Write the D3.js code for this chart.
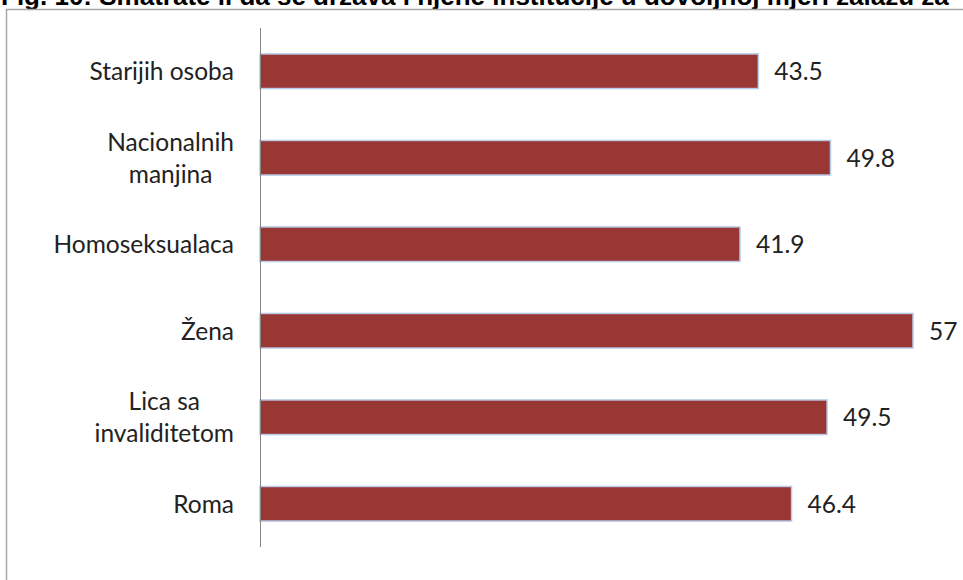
<!DOCTYPE html>
<html><head><meta charset="utf-8">
<script src="https://cdn.jsdelivr.net/npm/d3@7"></script>
<style>body{margin:0;background:#fff;overflow:hidden}</style>
</head><body>
<svg id="c" width="963" height="580"></svg>
<script>
const title = "Fig. 10: Smatrate li da se država i njene institucije u dovoljnoj mjeri zalažu za";
const categories = [["Starijih osoba"], ["Nacionalnih", "manjina"], ["Homoseksualaca"], ["Žena"], ["Lica sa", "invaliditetom"], ["Roma"]];
const values = [43.5, 49.8, 41.9, 57, 49.5, 46.4];
const labels = ["43.5", "49.8", "41.9", "57", "49.5", "46.4"];

const svg = d3.select("#c");
const font = "Lato, 'Open Sans', sans-serif";

svg.append("text").attr("x", 1).attr("y", 5)
  .attr("font-family", "'Liberation Sans', Arial, sans-serif").attr("font-weight", "bold")
  .attr("font-size", 26).attr("fill", "#000").text(title);

svg.append("rect").attr("x", 6.5).attr("y", 9.5).attr("width", 1000).attr("height", 700)
  .attr("fill", "#fff").attr("stroke", "#a6a6a6").attr("stroke-width", 1.5);

const x0 = 260, y0 = 28, y1 = 547;
const x = d3.scaleLinear().domain([0, 60]).range([x0, x0 + 60 * 11.456]);
const y = d3.scaleBand().domain(d3.range(values.length)).range([y0, y1]).paddingInner(0.6).paddingOuter(0.3);

svg.selectAll("rect.bar").data(values).join("rect").attr("class", "bar")
  .attr("x", x(0)).attr("y", (d, i) => y(i))
  .attr("width", d => x(d) - x(0)).attr("height", y.bandwidth())
  .attr("fill", "#993735").attr("stroke", "#b8cbe8").attr("stroke-width", 1.5);

svg.append("line").attr("x1", x0 + 0.5).attr("x2", x0 + 0.5).attr("y1", y0).attr("y2", y1)
  .attr("stroke", "#868686").attr("stroke-width", 1);

svg.selectAll("text.val").data(values).join("text").attr("class", "val")
  .attr("x", d => x(d) + 16).attr("y", (d, i) => y(i) + y.bandwidth() / 2)
  .attr("dy", "0.36em").attr("font-family", font).attr("font-size", 24.5).attr("fill", "#222")
  .text((d, i) => labels[i]);

const lh = 32;
categories.forEach((lines, i) => {
  const cy = y(i) + y.bandwidth() / 2;
  const g = svg.append("text").attr("font-family", font).attr("font-size", 24.5).attr("fill", "#222");
  lines.forEach((l, k) => {
    g.append("tspan").attr("y", cy + (k - (lines.length - 1) / 2) * lh).attr("dy", "0.36em").text(l);
  });
  let maxW = 0;
  g.selectAll("tspan").each(function(){ maxW = Math.max(maxW, this.getComputedTextLength()); });
  g.attr("text-anchor", "middle").selectAll("tspan").attr("x", 234 - maxW / 2);
});
</script>
</body></html>
